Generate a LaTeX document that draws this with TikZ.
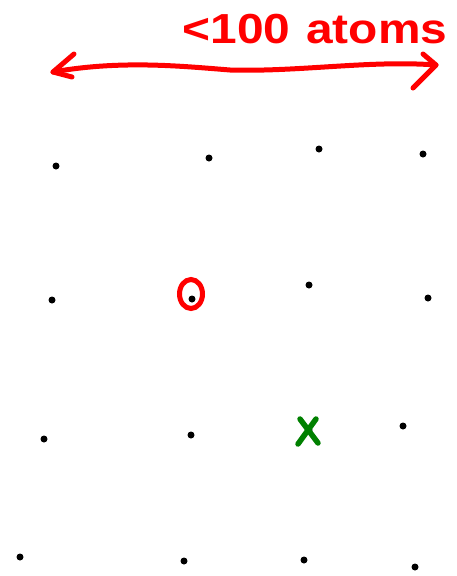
\documentclass[tikz,border=0pt]{standalone}
\usepackage{fontspec}
\setmainfont{Liberation Sans}
\begin{document}
\begin{tikzpicture}[x=1pt,y=-1pt,
  atom/.style={circle,fill=black,inner sep=0pt,minimum size=7pt},
  pen/.style={red,line width=5pt,line cap=round,line join=round}]
\useasboundingbox (0,0) rectangle (456,576);
% atoms
\foreach \n/\x/\y in {a11/56/166,a12/209/158,a13/319/149,a14/423/154,
  a21/52/300,a22/192/299,a23/309/285,a24/428/298,
  a31/44/439,a32/191/435,a33/309/430,a34/403/426,
  a41/20/557,a42/184/561,a43/304/560,a44/415/567}
  \node[atom] (\n) at (\x,\y) {};
% label
\node[red,font=\fontsize{42}{42}\selectfont\bfseries,xscale=1.14,anchor=center] (lbl) at (315,29) {<100\hspace{14pt}atoms};
% arrow shaft
\coordinate (L) at (53,72);
\coordinate (R) at (436,65);
\draw[pen] (L) .. controls (120,60) and (180,66) .. (230,70)
  .. controls (300,72) and (370,60) .. (R);
\coordinate (Lu) at (74,54);
\coordinate (Ld) at (72,77);
\coordinate (Ru) at (423,54);
\coordinate (Rd) at (413,88);
\draw[pen] (Lu) -- (L) -- (Ld);
\draw[pen] (Ru) -- (R) -- (Rd);
% O marker
\draw[red,line width=5pt] (191,294) ellipse (11.5pt and 14.5pt);
% X marker
\draw[green!50!black,line width=5.5pt,line cap=round] (300,419) -- (318,443);
\draw[green!50!black,line width=5.5pt,line cap=round] (316,419) -- (298,444);
\end{tikzpicture}
\end{document}
